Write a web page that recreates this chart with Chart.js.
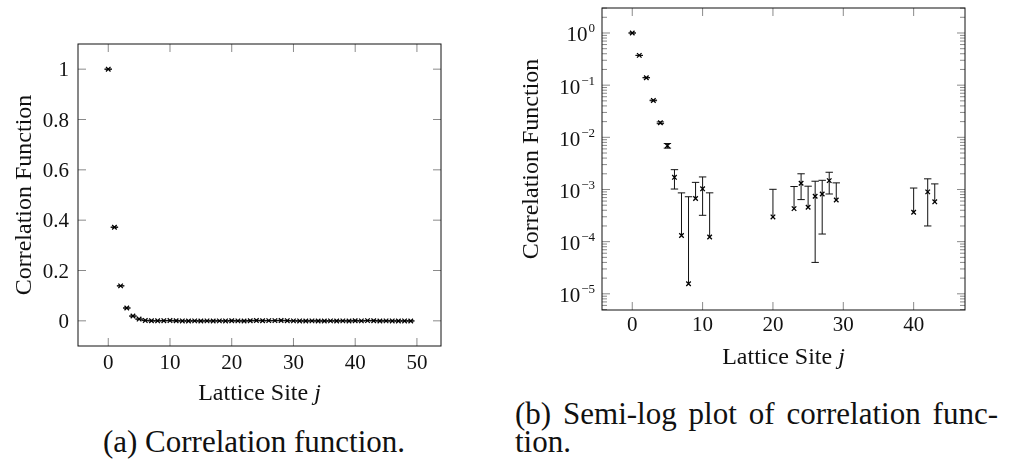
<!DOCTYPE html>
<html>
<head>
<meta charset="utf-8">
<script src="https://cdn.jsdelivr.net/npm/chart.js@4.4.0/dist/chart.umd.min.js"></script>
<style>
  body { margin: 0; background: #fff; width: 1017px; height: 462px; position: relative; overflow: hidden;
         font-family: "Liberation Serif", serif; color: #111; }
  .panel { position: absolute; top: 0; }
  .panel canvas { position: absolute; left: 0; top: 0; }
  #panelA { left: 0; width: 460px; height: 410px; }
  #panelB { left: 500px; width: 517px; height: 380px; }
  .lbl { position: absolute; white-space: nowrap; line-height: 1; }
  .sup { font-size: 13px; position: relative; top: -9px; margin-left: 1px; }
  .caption { position: absolute; font-size: 31px; line-height: 31px; white-space: nowrap; }
  #capA { left: 54px; width: 400px; top: 426px; text-align: center; }
  #capB1 { left: 515px; width: 483px; top: 398px; text-align: justify; text-align-last: justify; }
  #capB2 { left: 515px; top: 426px; }
</style>
</head>
<body>
<div class="panel" id="panelA"><canvas id="linChart" width="460" height="410"></canvas></div>
<div class="panel" id="panelB"><canvas id="logChart" width="517" height="380"></canvas></div>
<div class="caption" id="capA">(a) Correlation function.</div>
<div class="caption" id="capB1">(b) Semi-log plot of correlation func-</div>
<div class="caption" id="capB2">tion.</div>
<script>
// lattice sites j = 0..49
const sites = [0, 1, 2, 3, 4, 5, 6, 7, 8, 9, 10, 11, 12, 13, 14, 15, 16, 17, 18, 19,
  20, 21, 22, 23, 24, 25, 26, 27, 28, 29, 30, 31, 32, 33, 34, 35, 36, 37, 38, 39,
  40, 41, 42, 43, 44, 45, 46, 47, 48, 49];

// measured correlation function
const corrValues = [1.0, 0.372, 0.139, 0.051, 0.019, 0.0069, 0.00171, 0.000131, 0.0000156, 0.00067,
  0.00103, 0.000123, -0.00031, -0.00052, -0.00018, -0.00064, -0.00025, -0.0004, -0.00012, -0.00036,
  0.000298, -0.00022, -0.00048, 0.00043, 0.00132, 0.000457, 0.00074, 0.00082, 0.00148, 0.00063,
  -0.00015, -0.00033, -0.00056, -0.0002, -0.00044, -0.00061, -0.00027, -0.00039, -0.00011, -0.0005,
  0.000366, -0.00023, 0.0009, 0.00058, -0.00046, -0.00017, -0.00035, -0.00058, -0.00029, -0.00041];

// statistical errors
const corrErrors = [0.0007, 0.0007, 0.0007, 0.0007, 0.0007, 0.0007, 0.00069, 0.00073, 0.00071, 0.0007,
  0.00071, 0.00074, 0.0007, 0.0007, 0.0007, 0.0007, 0.0007, 0.0007, 0.0007, 0.0007,
  0.00071, 0.0007, 0.0007, 0.00071, 0.00068, 0.0007, 0.0007, 0.00068, 0.00066, 0.00071,
  0.0007, 0.0007, 0.0007, 0.0007, 0.0007, 0.0007, 0.0007, 0.0007, 0.0007, 0.0007,
  0.0007, 0.0007, 0.0007, 0.0007, 0.0007, 0.0007, 0.0007, 0.0007, 0.0007, 0.0007];

// tick labels
const linXTicks = [0, 10, 20, 30, 40, 50];
const linYTicks = [0, 0.2, 0.4, 0.6, 0.8, 1];
const linYLabels = ['0', '0.2', '0.4', '0.6', '0.8', '1'];
const logXTicks = [0, 10, 20, 30, 40];
const logYExps = [-5, -4, -3, -2, -1, 0];

const CAP = 3.7;

const points = sites.map((j, i) => ({ x: j, y: corrValues[i], err: corrErrors[i] }));
const positivePoints = points.filter(p => p.y > 0);

function addLabel(box, html, x, y, css) {
  const d = document.createElement('div');
  d.className = 'lbl';
  d.innerHTML = html;
  d.style.left = x + 'px';
  d.style.top = y + 'px';
  Object.assign(d.style, css);
  box.appendChild(d);
}

// error bars, inward ticks, frame; text goes in html next to the canvas
const axisDecor = {
  id: 'axisDecor',
  beforeDatasetsDraw(chart) {
    const ctx = chart.ctx, xs = chart.scales.x, ys = chart.scales.y;
    const a = chart.chartArea;
    const isLog = ys.type === 'logarithmic';
    ctx.save();
    ctx.beginPath();
    ctx.rect(a.left, a.top, a.right - a.left, a.bottom - a.top);
    ctx.clip();
    ctx.strokeStyle = '#111';
    ctx.lineWidth = 1;
    chart.data.datasets[0].data.forEach(p => {
      const px = xs.getPixelForValue(p.x);
      const hi = ys.getPixelForValue(p.y + p.err);
      const lowOk = !isLog || p.y - p.err > 0;
      const lo = ys.getPixelForValue(lowOk ? p.y - p.err : p.y);
      ctx.beginPath();
      ctx.moveTo(px, lo); ctx.lineTo(px, hi);
      ctx.moveTo(px - CAP, hi); ctx.lineTo(px + CAP, hi);
      if (lowOk) { ctx.moveTo(px - CAP, lo); ctx.lineTo(px + CAP, lo); }
      ctx.stroke();
    });
    ctx.restore();
  },
  afterDraw(chart, args, o) {
    const ctx = chart.ctx, xs = chart.scales.x, ys = chart.scales.y;
    const { left, right, top, bottom } = chart.chartArea;
    const isLog = ys.type === 'logarithmic';
    ctx.save();
    ctx.lineWidth = 1;
    ctx.strokeStyle = '#8a8a8a';
    ctx.beginPath();
    xs.ticks.forEach(t => {
      const x = xs.getPixelForValue(t.value);
      ctx.moveTo(x, bottom); ctx.lineTo(x, bottom - 8);
      ctx.moveTo(x, top); ctx.lineTo(x, top + 8);
    });
    ys.ticks.forEach(t => {
      const y = ys.getPixelForValue(t.value);
      ctx.moveTo(left, y); ctx.lineTo(left + 8, y);
      ctx.moveTo(right, y); ctx.lineTo(right - 8, y);
    });
    if (isLog) {
      for (let e = -6; e <= 0; e++) {
        for (let k = 2; k <= 9; k++) {
          const v = k * Math.pow(10, e);
          if (v < ys.min || v > ys.max) continue;
          const y = ys.getPixelForValue(v);
          ctx.moveTo(left, y); ctx.lineTo(left + 5, y);
          ctx.moveTo(right, y); ctx.lineTo(right - 5, y);
        }
      }
    }
    ctx.stroke();
    ctx.strokeStyle = '#111';
    ctx.strokeRect(left, top, right - left, bottom - top);
    ctx.restore();

    // tick labels and axis titles
    const box = chart.canvas.parentNode;
    box.querySelectorAll('.lbl').forEach(n => n.remove());
    const center = { transform: 'translate(-50%,-50%)', fontSize: '21px' };
    const rightAl = { transform: 'translate(-100%,-50%)', fontSize: '21px' };
    xs.ticks.forEach((t, i) => {
      addLabel(box, o.xLabels[i], xs.getPixelForValue(t.value), bottom + o.xLabelGap, center);
    });
    if (isLog) {
      ys.ticks.forEach((t, i) => {
        const e = logYExps[i];
        const expText = e === 0 ? '0' : '\u2212' + (-e);
        addLabel(box, '10<span class="sup">' + expText + '</span>',
          left - 7, ys.getPixelForValue(t.value) + 1.5, rightAl);
      });
    } else {
      ys.ticks.forEach((t, i) => {
        addLabel(box, linYLabels[i], left - 9, ys.getPixelForValue(t.value), rightAl);
      });
    }
    addLabel(box, 'Lattice Site <i>j</i>', (left + right) / 2, bottom + o.xTitleGap,
      { transform: 'translate(-50%,-50%)', fontSize: '24px' });
    addLabel(box, 'Correlation Function', o.yTitleX, (top + bottom) / 2,
      { transform: 'translate(-50%,-50%) rotate(-90deg)', fontSize: '24px' });
  }
};

const markerStyle = {
  pointStyle: 'crossRot',
  pointRadius: 3.2,
  pointBorderWidth: 1.3,
  borderColor: '#000',
  backgroundColor: '#000',
  showLine: false
};

function tickSetter(values) {
  return scale => { scale.ticks = values.map(v => ({ value: v })); };
}

new Chart(document.getElementById('linChart'), {
  type: 'scatter',
  data: { datasets: [Object.assign({ data: points }, markerStyle)] },
  plugins: [axisDecor],
  options: {
    responsive: false,
    animation: false,
    layout: { padding: { top: 44, right: 19, left: 0, bottom: 0 } },
    scales: {
      x: {
        type: 'linear', min: -4.9, max: 53.9,
        afterBuildTicks: tickSetter(linXTicks),
        afterFit: s => { s.height = 64; },
        grid: { display: false, drawTicks: false },
        border: { display: false },
        ticks: { display: false }
      },
      y: {
        type: 'linear', min: -0.1, max: 1.1,
        afterBuildTicks: tickSetter(linYTicks),
        afterFit: s => { s.width = 78; },
        grid: { display: false, drawTicks: false },
        border: { display: false },
        ticks: { display: false }
      }
    },
    plugins: {
      legend: { display: false },
      tooltip: { enabled: false },
      axisDecor: {
        xLabels: linXTicks.map(String), xLabelGap: 16,
        xTitleGap: 46, yTitleX: 22.5
      }
    }
  }
});

new Chart(document.getElementById('logChart'), {
  type: 'scatter',
  data: { datasets: [Object.assign({ data: positivePoints }, markerStyle)] },
  plugins: [axisDecor],
  options: {
    responsive: false,
    animation: false,
    layout: { padding: { top: 8, right: 52, left: 0, bottom: 0 } },
    scales: {
      x: {
        type: 'linear', min: -4.3, max: 47.3,
        afterBuildTicks: tickSetter(logXTicks),
        afterFit: s => { s.height = 70; },
        grid: { display: false, drawTicks: false },
        border: { display: false },
        ticks: { display: false }
      },
      y: {
        type: 'logarithmic', min: Math.pow(10, -5.31), max: Math.pow(10, 0.479),
        afterBuildTicks: tickSetter(logYExps.map(e => Math.pow(10, e))),
        afterFit: s => { s.width = 102; },
        grid: { display: false, drawTicks: false },
        border: { display: false },
        ticks: { display: false }
      }
    },
    plugins: {
      legend: { display: false },
      tooltip: { enabled: false },
      axisDecor: {
        xLabels: logXTicks.map(String), xLabelGap: 14,
        xTitleGap: 46, yTitleX: 29.5
      }
    }
  }
});
</script>
</body>
</html>
